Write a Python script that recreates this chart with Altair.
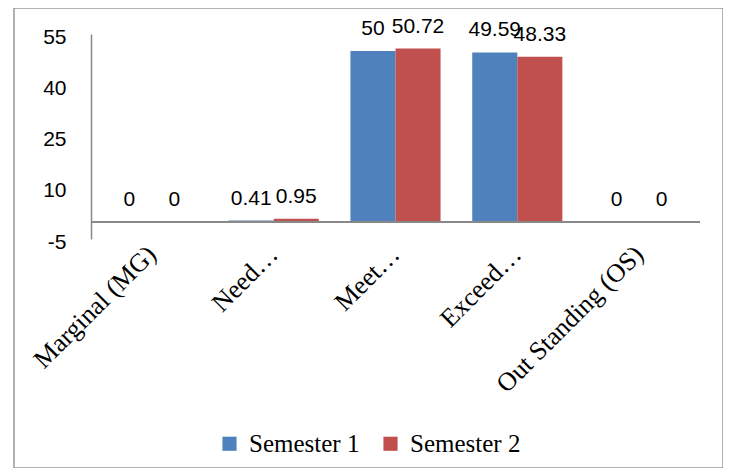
import altair as alt
import pandas as pd

categories = ["Marginal (MG)", "Need…", "Meet…", "Exceed…", "Out Standing (OS)"]
series = ["Semester 1", "Semester 2"]
semester1 = [0, 0.41, 50, 49.59, 0]
semester2 = [0, 0.95, 50.72, 48.33, 0]
colors = ["#4F81BD", "#C0504D"]
y_ticks = [-5, 10, 25, 40, 55]

rows = []
for c, v1, v2 in zip(categories, semester1, semester2):
    rows.append({"category": c, "series": series[0], "value": v1, "label": f"{v1:g}"})
    rows.append({"category": c, "series": series[1], "value": v2, "label": f"{v2:g}"})
df = pd.DataFrame(rows)

x_enc = alt.X(
    "category:N",
    sort=categories,
    scale=alt.Scale(range=[77, 686], paddingInner=0.26, paddingOuter=0.13),
    axis=alt.Axis(
        title=None, labelAngle=-45, domain=False, ticks=False, offset=-228,
        labelFont="Liberation Serif", labelFontSize=26, labelColor="black",
        labelAlign="right", labelBaseline="middle", labelPadding=10, labelLimit=400,
    ),
)
y_enc = alt.Y(
    "value:Q",
    scale=alt.Scale(domain=[-5, 55], range=[231, 26], nice=False, zero=False),
    axis=alt.Axis(
        values=y_ticks, title=None, grid=False, ticks=False, offset=-77,
        domainColor="#888888", domainWidth=1.5,
        labelFont="Liberation Sans", labelFontSize=21, labelColor="black",
        labelPadding=25, labelOffset=3,
        labelExpr="replace(datum.label, '\u2212', '-')",
    ),
)
xoff = alt.XOffset("series:N", sort=series, scale=alt.Scale(paddingInner=0, paddingOuter=0))
color_enc = alt.Color(
    "series:N",
    sort=series,
    scale=alt.Scale(domain=series, range=colors),
    legend=alt.Legend(
        title=None, orient="none", direction="horizontal", legendX=203, legendY=423,
        symbolType="square", symbolSize=200, symbolStrokeWidth=0,
        labelFont="Liberation Serif", labelFontSize=25, labelColor="black",
        labelOffset=7, columnPadding=18,
    ),
)

base = alt.Chart(df)

bars = base.mark_bar().encode(
    x=x_enc, xOffset=xoff, y=y_enc, y2=alt.datum(0), color=color_enc
)

zero_line = base.mark_rule(color="#888888", strokeWidth=1.5).encode(
    y=alt.datum(0), x=alt.value(77), x2=alt.value(686)
)

labels = base.mark_text(
    font="Liberation Sans", fontSize=21, color="black", baseline="alphabetic", dy=-16
).encode(x=x_enc, xOffset=xoff, y=y_enc, text="label:N")

chart = (
    alt.layer(bars, zero_line, labels)
    .properties(
        width=709, height=460,
        autosize=alt.AutoSizeParams(type="none"),
        padding={"left": 6, "top": 0, "right": 0, "bottom": 0},
    )
    .configure_view(stroke="#999999", strokeWidth=1.5)
)

chart.save("out.html", embed_options={"renderer": "svg", "actions": False})
